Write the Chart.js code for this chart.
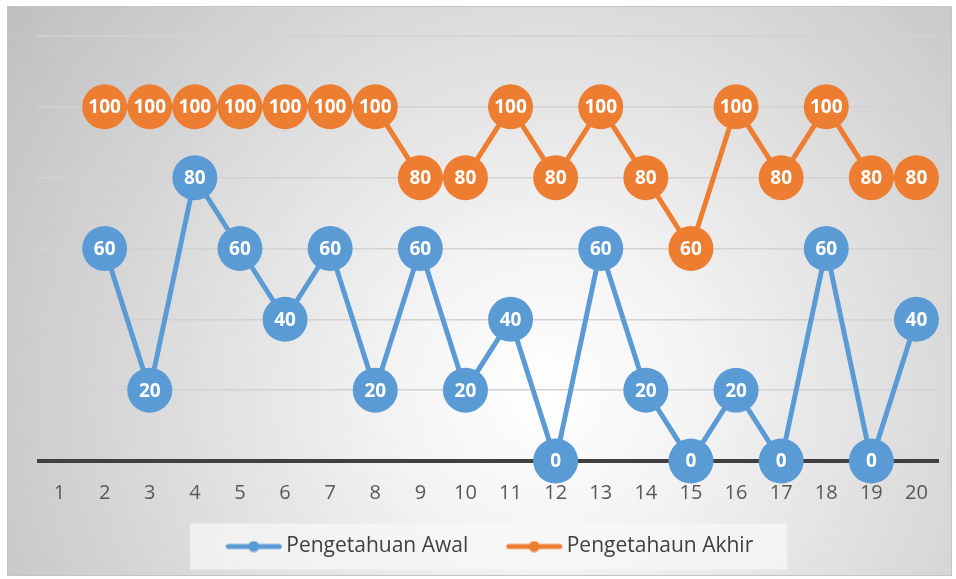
<!DOCTYPE html>
<html>
<head>
<meta charset="utf-8">
<script src="https://cdn.jsdelivr.net/npm/chart.js@4.4.1/dist/chart.umd.min.js"></script>
<style>
  body { margin: 0; background: #fff; }
  #kotak {
    position: absolute; left: 7px; top: 6px; width: 943px; height: 568px;
    border: 1px solid #c4c4c4;
    background: radial-gradient(circle farthest-corner at 57% 68%, #ffffff 0%, #f4f4f4 22%, #bfbfbf 100%);
  }
  #grafik { display: block; }
</style>
</head>
<body>
<div id="kotak"><canvas id="grafik" width="943" height="568"></canvas></div>
<script>
const nomor = ['1','2','3','4','5','6','7','8','9','10','11','12','13','14','15','16','17','18','19','20'];
const nilaiAwal = [null, 60, 20, 80, 60, 40, 60, 20, 60, 20, 40, 0, 60, 20, 0, 20, 0, 60, 0, 40];
const nilaiAkhir = [null, 100, 100, 100, 100, 100, 100, 100, 80, 80, 100, 80, 100, 80, 60, 100, 80, 100, 80, 80];
const garisY = [0, 20, 40, 60, 80, 100, 120];

const biru = '#5B9BD5';
const oranye = '#ED7D31';
const huruf = "'Open Sans', 'Liberation Sans', sans-serif";

// ikon legenda: garis dengan titik di tengah (sisi kiri kosong = jarak antar item)
function buatIkon(warna) {
    const c = document.createElement('canvas');
    c.width = 96; c.height = 12;
    const g = c.getContext('2d');
    g.strokeStyle = warna; g.fillStyle = warna;
    g.lineWidth = 5; g.lineCap = 'round';
    g.beginPath(); g.moveTo(39, 6); g.lineTo(90, 6); g.stroke();
    g.beginPath(); g.arc(64.5, 6, 5.5, 0, Math.PI * 2); g.fill();
    return c;
}
const ikon = [buatIkon(biru), buatIkon(oranye)];

// label angka putih di dalam lingkaran
const labelTitik = {
    id: 'labelTitik',
    afterDatasetsDraw(chart) {
        const ctx = chart.ctx;
        ctx.save();
        ctx.font = 'bold 19px ' + huruf;
        ctx.fillStyle = '#fff';
        ctx.textAlign = 'center';
        ctx.textBaseline = 'middle';
        chart.data.datasets.forEach((ds, i) => {
            const meta = chart.getDatasetMeta(i);
            meta.data.forEach((pt, j) => {
                if (ds.data[j] === null) return;
                ctx.fillText(String(ds.data[j]), pt.x, pt.y + 1);
            });
        });
        ctx.restore();
    }
};

// kotak latar legenda
const latarLegenda = {
    id: 'latarLegenda',
    beforeDraw(chart) {
        const kotak = chart.legend.legendHitBoxes;
        if (!kotak || !kotak.length) return;
        const kiri = Math.min(...kotak.map(b => b.left)) - 9;
        const kanan = Math.max(...kotak.map(b => b.left + b.width)) + 34;
        const tengah = kotak[0].top + kotak[0].height / 2;
        const ctx = chart.ctx;
        ctx.save();
        ctx.fillStyle = 'rgba(248,248,248,0.7)';
        ctx.fillRect(kiri, tengah - 23, kanan - kiri, 46);
        ctx.restore();
    }
};

const grafik = new Chart(document.getElementById('grafik'), {
    type: 'line',
    data: {
        labels: nomor,
        datasets: [{
            label: 'Pengetahuan Awal',
            data: nilaiAwal,
            borderColor: biru,
            backgroundColor: biru,
            borderWidth: 5,
            pointRadius: 22.5,
            pointHoverRadius: 22.5,
            pointBorderWidth: 0,
            tension: 0,
            clip: false
        }, {
            label: 'Pengetahaun Akhir',
            data: nilaiAkhir,
            borderColor: oranye,
            backgroundColor: oranye,
            borderWidth: 5,
            pointRadius: 22.5,
            pointHoverRadius: 22.5,
            pointBorderWidth: 0,
            tension: 0,
            clip: false
        }]
    },
    options: {
        responsive: false,
        animation: false,
        layout: { autoPadding: false, padding: { left: 5, right: 12, top: 29, bottom: 8 } },
        scales: {
            x: {
                offset: true,
                grid: { display: false, drawTicks: false },
                border: { display: false },
                ticks: { color: '#595959', font: { family: huruf, size: 20 }, padding: 20, maxRotation: 0 }
            },
            y: {
                min: 0,
                max: 120,
                afterBuildTicks(axis) { axis.ticks = garisY.map(v => ({ value: v })); },
                afterFit(axis) { axis.width = 24; },
                border: { display: false },
                grid: {
                    drawTicks: false,
                    color: ctx => ctx.tick && ctx.tick.value === 0 ? '#404040' : '#d2d2d2',
                    lineWidth: ctx => ctx.tick && ctx.tick.value === 0 ? 4 : 1.5
                },
                ticks: { display: false }
            }
        },
        plugins: {
            tooltip: { enabled: false },
            legend: {
                position: 'bottom',
                labels: {
                    usePointStyle: true,
                    pointStyleWidth: 77,
                    padding: 11,
                    color: '#404040',
                    font: { family: huruf, size: 21 },
                    generateLabels(chart) {
                        const item = Chart.defaults.plugins.legend.labels.generateLabels(chart);
                        item.forEach((it, i) => { it.pointStyle = ikon[i]; });
                        return item;
                    }
                }
            }
        }
    },
    plugins: [latarLegenda, labelTitik]
});
</script>
</body>
</html>
